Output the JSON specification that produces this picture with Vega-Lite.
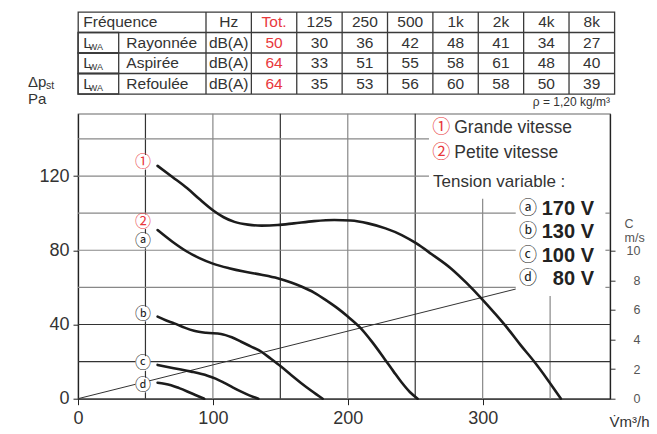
{
  "$schema": "https://vega.github.io/schema/vega-lite/v6.json",
  "background": "white",
  "padding": {"left": 27, "top": 10, "right": 0, "bottom": 37},
  "bounds": "flush",
  "spacing": 19.7,
  "config": {"font": "Liberation Sans", "view": {"stroke": null}, "axis": {"labelFont": "Liberation Sans", "titleFont": "Liberation Sans"}},
  "datasets": {
    "cells": [
      {"row": "Fréquence", "col": "Hz", "v": "Hz"}, {"row": "Fréquence", "col": "Tot.", "v": "Tot."}, {"row": "Fréquence", "col": "125", "v": "125"}, {"row": "Fréquence", "col": "250", "v": "250"}, {"row": "Fréquence", "col": "500", "v": "500"}, {"row": "Fréquence", "col": "1k", "v": "1k"}, {"row": "Fréquence", "col": "2k", "v": "2k"}, {"row": "Fréquence", "col": "4k", "v": "4k"}, {"row": "Fréquence", "col": "8k", "v": "8k"},
      {"row": "Rayonnée", "col": "Hz", "v": "dB(A)"}, {"row": "Rayonnée", "col": "Tot.", "v": "50"}, {"row": "Rayonnée", "col": "125", "v": "30"}, {"row": "Rayonnée", "col": "250", "v": "36"}, {"row": "Rayonnée", "col": "500", "v": "42"}, {"row": "Rayonnée", "col": "1k", "v": "48"}, {"row": "Rayonnée", "col": "2k", "v": "41"}, {"row": "Rayonnée", "col": "4k", "v": "34"}, {"row": "Rayonnée", "col": "8k", "v": "27"},
      {"row": "Aspirée", "col": "Hz", "v": "dB(A)"}, {"row": "Aspirée", "col": "Tot.", "v": "64"}, {"row": "Aspirée", "col": "125", "v": "33"}, {"row": "Aspirée", "col": "250", "v": "51"}, {"row": "Aspirée", "col": "500", "v": "55"}, {"row": "Aspirée", "col": "1k", "v": "58"}, {"row": "Aspirée", "col": "2k", "v": "61"}, {"row": "Aspirée", "col": "4k", "v": "48"}, {"row": "Aspirée", "col": "8k", "v": "40"},
      {"row": "Refoulée", "col": "Hz", "v": "dB(A)"}, {"row": "Refoulée", "col": "Tot.", "v": "64"}, {"row": "Refoulée", "col": "125", "v": "35"}, {"row": "Refoulée", "col": "250", "v": "53"}, {"row": "Refoulée", "col": "500", "v": "56"}, {"row": "Refoulée", "col": "1k", "v": "60"}, {"row": "Refoulée", "col": "2k", "v": "58"}, {"row": "Refoulée", "col": "4k", "v": "50"}, {"row": "Refoulée", "col": "8k", "v": "39"}
    ],
    "labels": [
      {"row": "Fréquence", "c": "LWA", "t": "Fréquence"},
      {"row": "Rayonnée", "c": "LWA", "t": "L"}, {"row": "Aspirée", "c": "LWA", "t": "L"}, {"row": "Refoulée", "c": "LWA", "t": "L"},
      {"row": "Rayonnée", "c": "name", "t": "Rayonnée"}, {"row": "Aspirée", "c": "name", "t": "Aspirée"}, {"row": "Refoulée", "c": "name", "t": "Refoulée"}
    ],
    "subs": [
      {"row": "Rayonnée", "c": "LWA", "t": "WA"}, {"row": "Aspirée", "c": "LWA", "t": "WA"}, {"row": "Refoulée", "c": "LWA", "t": "WA"}
    ],
    "vgridDark": [{"q": 50, "lo": 0, "hi": 153.6}, {"q": 150, "lo": 0, "hi": 153.6}, {"q": 250, "lo": 0, "hi": 153.6}],
    "vgridGray": [{"q": 100, "lo": 0, "hi": 153.6}, {"q": 200, "lo": 0, "hi": 153.6}, {"q": 300, "lo": 0, "hi": 107.7}, {"q": 350, "lo": 0, "hi": 55.4}],
    "hgridDark": [{"p": 20, "lo": 0, "hi": 394.4}, {"p": 40, "lo": 0, "hi": 394.4}],
    "hgridGray": [{"p": 60, "lo": 0, "hi": 324.5}, {"p": 60, "lo": 391, "hi": 394.4}, {"p": 80, "lo": 0, "hi": 324.5}, {"p": 80, "lo": 391, "hi": 394.4}, {"p": 100, "lo": 0, "hi": 324.5}, {"p": 100, "lo": 391, "hi": 394.4}, {"p": 120, "lo": 0, "hi": 260.2}, {"p": 140, "lo": 0, "hi": 260.2}],
    "diag": [{"q": 0, "c": 0}, {"q": 324.5, "c": 7.41}],
    "curves": [
      {"curve": "1", "q": 59, "p": 125.5}, {"curve": "1", "q": 70, "p": 119.5}, {"curve": "1", "q": 81, "p": 113.4}, {"curve": "1", "q": 90, "p": 107.6}, {"curve": "1", "q": 100, "p": 101.6}, {"curve": "1", "q": 108, "p": 97.8}, {"curve": "1", "q": 116, "p": 95.3}, {"curve": "1", "q": 126, "p": 93.8}, {"curve": "1", "q": 136, "p": 93.3}, {"curve": "1", "q": 148, "p": 93.6}, {"curve": "1", "q": 160, "p": 94.5}, {"curve": "1", "q": 175, "p": 95.7}, {"curve": "1", "q": 190, "p": 96.3}, {"curve": "1", "q": 202, "p": 96.0}, {"curve": "1", "q": 215, "p": 94.5}, {"curve": "1", "q": 228, "p": 91.8}, {"curve": "1", "q": 240, "p": 88.2}, {"curve": "1", "q": 250.6, "p": 83.8}, {"curve": "1", "q": 262, "p": 78}, {"curve": "1", "q": 276.5, "p": 70.2}, {"curve": "1", "q": 288, "p": 62.4}, {"curve": "1", "q": 299, "p": 54.1}, {"curve": "1", "q": 309, "p": 46}, {"curve": "1", "q": 318.5, "p": 37.9}, {"curve": "1", "q": 328, "p": 29}, {"curve": "1", "q": 338.3, "p": 19.9}, {"curve": "1", "q": 348, "p": 10.4}, {"curve": "1", "q": 358, "p": 0},
      {"curve": "2", "q": 59, "p": 90.9}, {"curve": "2", "q": 70, "p": 84.6}, {"curve": "2", "q": 81, "p": 79.2}, {"curve": "2", "q": 90, "p": 75.8}, {"curve": "2", "q": 100, "p": 72.8}, {"curve": "2", "q": 112, "p": 70.3}, {"curve": "2", "q": 123, "p": 68.5}, {"curve": "2", "q": 136, "p": 66.8}, {"curve": "2", "q": 148, "p": 64.9}, {"curve": "2", "q": 158, "p": 62.6}, {"curve": "2", "q": 166, "p": 60.3}, {"curve": "2", "q": 175, "p": 57.2}, {"curve": "2", "q": 185, "p": 52.5}, {"curve": "2", "q": 193, "p": 48.4}, {"curve": "2", "q": 200, "p": 44.3}, {"curve": "2", "q": 208.5, "p": 38.8}, {"curve": "2", "q": 218, "p": 30.6}, {"curve": "2", "q": 227, "p": 21.7}, {"curve": "2", "q": 234, "p": 14.6}, {"curve": "2", "q": 240, "p": 8.7}, {"curve": "2", "q": 246, "p": 3.6}, {"curve": "2", "q": 251.8, "p": 0},
      {"curve": "b", "q": 59, "p": 44.2}, {"curve": "b", "q": 65, "p": 42.3}, {"curve": "b", "q": 71.4, "p": 40.6}, {"curve": "b", "q": 79, "p": 38.3}, {"curve": "b", "q": 86, "p": 36.6}, {"curve": "b", "q": 95, "p": 35.5}, {"curve": "b", "q": 106, "p": 34.9}, {"curve": "b", "q": 114, "p": 33.1}, {"curve": "b", "q": 121, "p": 30.7}, {"curve": "b", "q": 128, "p": 28.2}, {"curve": "b", "q": 136, "p": 25.3}, {"curve": "b", "q": 143, "p": 21.5}, {"curve": "b", "q": 150.5, "p": 17.3}, {"curve": "b", "q": 158, "p": 12.8}, {"curve": "b", "q": 165.3, "p": 8.5}, {"curve": "b", "q": 173, "p": 4.3}, {"curve": "b", "q": 181.4, "p": 0},
      {"curve": "c", "q": 59, "p": 18.2}, {"curve": "c", "q": 71, "p": 16.4}, {"curve": "c", "q": 84, "p": 14.6}, {"curve": "c", "q": 96, "p": 12.4}, {"curve": "c", "q": 102, "p": 10.8}, {"curve": "c", "q": 108.5, "p": 8.5}, {"curve": "c", "q": 115, "p": 6}, {"curve": "c", "q": 121, "p": 3.8}, {"curve": "c", "q": 127, "p": 1.8}, {"curve": "c", "q": 133.7, "p": 0},
      {"curve": "d", "q": 59, "p": 8.6}, {"curve": "d", "q": 64, "p": 8.1}, {"curve": "d", "q": 69, "p": 7.3}, {"curve": "d", "q": 75, "p": 5.7}, {"curve": "d", "q": 81, "p": 3.9}, {"curve": "d", "q": 87, "p": 2}, {"curve": "d", "q": 93.6, "p": 0}
    ],
    "curveLabels": [
      {"lab": "①", "kind": "vitesse", "q": 48.2, "p": 127.4},
      {"lab": "②", "kind": "vitesse", "q": 48.2, "p": 95.4},
      {"lab": "ⓐ", "kind": "tension", "q": 48.2, "p": 85},
      {"lab": "ⓑ", "kind": "tension", "q": 48.2, "p": 45.7},
      {"lab": "ⓒ", "kind": "tension", "q": 48.2, "p": 19},
      {"lab": "ⓓ", "kind": "tension", "q": 48.2, "p": 7.4}
    ],
    "legend": [
      {"sym": "①", "txt": "Grande vitesse", "kind": "vitesse", "q": 269.3, "p": 145.7},
      {"sym": "②", "txt": "Petite vitesse", "kind": "vitesse", "q": 269.3, "p": 132.5},
      {"sym": "ⓐ", "txt": "170 V", "kind": "tension", "q": 333.6, "p": 102.5},
      {"sym": "ⓑ", "txt": "130 V", "kind": "tension", "q": 333.6, "p": 89.7},
      {"sym": "ⓒ", "txt": "100 V", "kind": "tension", "q": 333.6, "p": 76.9},
      {"sym": "ⓓ", "txt": "80 V", "kind": "tension", "q": 333.6, "p": 64.4}
    ]
  },
  "vconcat": [
    {
      "width": 536.4,
      "height": 82,
      "view": {"stroke": "#3a3a3a", "strokeWidth": 1.3},
      "resolve": {"scale": {"x": "independent"}},
      "layer": [
        {
          "data": {"name": "cells"},
          "transform": [{"filter": "datum.row == 'Fréquence'"}],
          "mark": {"type": "rule", "color": "#3a3a3a", "strokeWidth": 1.3},
          "encoding": {
            "x": {"field": "col", "type": "nominal", "bandPosition": 0, "scale": {"domain": ["Hz", "Tot.", "125", "250", "500", "1k", "2k", "4k", "8k"], "range": [128, 536.4], "paddingInner": 0, "paddingOuter": 0}, "axis": null}
          }
        },
        {
          "data": {"name": "cells"},
          "transform": [{"filter": "datum.col == 'Hz' && datum.row != 'Fréquence'"}],
          "mark": {"type": "rule", "color": "#3a3a3a", "strokeWidth": 1.3},
          "encoding": {
            "y": {"field": "row", "type": "nominal", "bandPosition": 0, "scale": {"domain": ["Fréquence", "Rayonnée", "Aspirée", "Refoulée"], "paddingInner": 0, "paddingOuter": 0}, "axis": null}
          }
        },
        {
          "data": {"name": "labels"},
          "transform": [{"filter": "datum.c == 'LWA' && datum.row != 'Fréquence'"}],
          "mark": {"type": "rect", "fill": "white", "fillOpacity": 0, "stroke": "#3a3a3a", "strokeWidth": 1.3},
          "encoding": {
            "x": {"field": "c", "type": "nominal", "scale": {"domain": ["LWA"], "range": [0, 40.7], "paddingInner": 0, "paddingOuter": 0}, "axis": null},
            "y": {"field": "row", "type": "nominal", "scale": {"domain": ["Fréquence", "Rayonnée", "Aspirée", "Refoulée"], "paddingInner": 0, "paddingOuter": 0}, "axis": null}
          }
        },
        {
          "data": {"name": "cells"},
          "mark": {"type": "text", "font": "Liberation Sans Narrow, Liberation Sans", "fontSize": 15.5, "baseline": "middle", "align": "center"},
          "encoding": {
            "x": {"field": "col", "type": "nominal", "scale": {"domain": ["Hz", "Tot.", "125", "250", "500", "1k", "2k", "4k", "8k"], "range": [128, 536.4], "paddingInner": 0, "paddingOuter": 0}, "axis": null},
            "y": {"field": "row", "type": "nominal", "scale": {"domain": ["Fréquence", "Rayonnée", "Aspirée", "Refoulée"], "paddingInner": 0, "paddingOuter": 0}, "axis": null},
            "text": {"field": "v"},
            "color": {"condition": {"test": "datum.col == 'Tot.'", "value": "#e8383d"}, "value": "#333333"}
          }
        },
        {
          "data": {"name": "labels"},
          "transform": [{"filter": "datum.c == 'LWA'"}],
          "mark": {"type": "text", "font": "Liberation Sans Narrow, Liberation Sans", "fontSize": 15.5, "baseline": "middle", "align": "left", "dx": -15, "color": "#333333"},
          "encoding": {
            "x": {"field": "c", "type": "nominal", "scale": {"domain": ["LWA"], "range": [0, 40.7], "paddingInner": 0, "paddingOuter": 0}, "axis": null},
            "y": {"field": "row", "type": "nominal", "scale": {"domain": ["Fréquence", "Rayonnée", "Aspirée", "Refoulée"], "paddingInner": 0, "paddingOuter": 0}, "axis": null},
            "text": {"field": "t"}
          }
        },
        {
          "data": {"name": "labels"},
          "transform": [{"filter": "datum.c == 'name'"}],
          "mark": {"type": "text", "font": "Liberation Sans Narrow, Liberation Sans", "fontSize": 15.5, "baseline": "middle", "align": "left", "dx": -36, "color": "#333333"},
          "encoding": {
            "x": {"field": "c", "type": "nominal", "scale": {"domain": ["name"], "range": [40.7, 128], "paddingInner": 0, "paddingOuter": 0}, "axis": null},
            "y": {"field": "row", "type": "nominal", "scale": {"domain": ["Fréquence", "Rayonnée", "Aspirée", "Refoulée"], "paddingInner": 0, "paddingOuter": 0}, "axis": null},
            "text": {"field": "t"}
          }
        },
        {
          "data": {"name": "subs"},
          "mark": {"type": "text", "font": "Liberation Sans Narrow, Liberation Sans", "fontSize": 9, "baseline": "middle", "align": "left", "dx": -9.5, "dy": 4, "color": "#333333"},
          "encoding": {
            "x": {"field": "c", "type": "nominal", "scale": {"domain": ["LWA"], "range": [0, 40.7], "paddingInner": 0, "paddingOuter": 0}, "axis": null},
            "y": {"field": "row", "type": "nominal", "scale": {"domain": ["Fréquence", "Rayonnée", "Aspirée", "Refoulée"], "paddingInner": 0, "paddingOuter": 0}, "axis": null},
            "text": {"field": "t"}
          }
        }
      ]
    },
    {
      "width": 532,
      "height": 285,
      "view": {"stroke": "#666666", "strokeWidth": 1.2},
      "resolve": {"scale": {"y": "independent"}},
      "layer": [
        {
          "data": {"name": "vgridDark"},
          "mark": {"type": "rule", "color": "#333333", "strokeWidth": 1.2},
          "encoding": {
            "x": {"field": "q", "type": "quantitative", "scale": {"domain": [0, 394.4], "nice": false, "zero": false},
              "axis": {"values": [0, 100, 200, 300], "grid": false, "title": "V\u0307m³/h", "titleX": 531, "titleY": 28, "titleAlign": "left", "titleBaseline": "alphabetic", "titleAnchor": "start", "titleFontSize": 15, "titleFontWeight": "normal", "titleColor": "#333333", "labelFontSize": 18, "labelColor": "#333333", "labelPadding": 5, "tickSize": 6, "tickColor": "#222222", "domainColor": "#222222", "domainWidth": 1.3, "labelFlush": false, "labelOverlap": false}},
            "y": {"field": "lo", "type": "quantitative", "scale": {"domain": [0, 153.6], "nice": false, "zero": false},
              "axis": {"orient": "left", "values": [0, 40, 80, 120], "grid": false, "title": null, "labelFontSize": 18, "labelColor": "#333333", "labelPadding": 4, "tickSize": 5, "tickColor": "#222222", "domainColor": "#222222", "domainWidth": 1.3, "labelFlush": false, "labelOverlap": false}},
            "y2": {"field": "hi"}
          }
        },
        {
          "data": {"name": "vgridGray"},
          "mark": {"type": "rule", "color": "#888888", "strokeWidth": 1.2},
          "encoding": {
            "x": {"field": "q", "type": "quantitative", "scale": {"domain": [0, 394.4], "nice": false, "zero": false}},
            "y": {"field": "lo", "type": "quantitative", "scale": {"domain": [0, 153.6], "nice": false, "zero": false}, "axis": null},
            "y2": {"field": "hi"}
          }
        },
        {
          "data": {"name": "hgridDark"},
          "mark": {"type": "rule", "color": "#333333", "strokeWidth": 1.2},
          "encoding": {
            "y": {"field": "p", "type": "quantitative", "scale": {"domain": [0, 153.6], "nice": false, "zero": false}, "axis": null},
            "x": {"field": "lo", "type": "quantitative", "scale": {"domain": [0, 394.4], "nice": false, "zero": false}},
            "x2": {"field": "hi"}
          }
        },
        {
          "data": {"name": "hgridGray"},
          "mark": {"type": "rule", "color": "#888888", "strokeWidth": 1.2},
          "encoding": {
            "y": {"field": "p", "type": "quantitative", "scale": {"domain": [0, 153.6], "nice": false, "zero": false}, "axis": null},
            "x": {"field": "lo", "type": "quantitative", "scale": {"domain": [0, 394.4], "nice": false, "zero": false}},
            "x2": {"field": "hi"}
          }
        },
        {
          "data": {"name": "diag"},
          "mark": {"type": "line", "color": "#333333", "strokeWidth": 1},
          "encoding": {
            "x": {"field": "q", "type": "quantitative", "scale": {"domain": [0, 394.4], "nice": false, "zero": false}},
            "y": {"field": "c", "type": "quantitative", "scale": {"domain": [0, 19.26], "nice": false, "zero": false},
              "axis": {"orient": "right", "values": [0, 2, 4, 6, 8, 10], "grid": false, "title": ["C", "m/s"], "titleAngle": 0, "titleAlign": "left", "titleBaseline": "top", "titleX": 14, "titleY": 104, "titleFontSize": 12.5, "titleFontWeight": "normal", "titleColor": "#555555", "titleLineHeight": 14, "labelFontSize": 12.5, "labelColor": "#555555", "labelAlign": "right", "labelPadding": 25, "tickSize": 5, "tickColor": "#333333", "domainColor": "#222222", "domainWidth": 1.3, "labelFlush": false, "labelOverlap": false}}
          }
        },
        {
          "data": {"name": "curves"},
          "mark": {"type": "line", "interpolate": "monotone", "color": "#1c1c1c", "strokeWidth": 2.6, "strokeCap": "round"},
          "encoding": {
            "x": {"field": "q", "type": "quantitative", "scale": {"domain": [0, 394.4], "nice": false, "zero": false}},
            "y": {"field": "p", "type": "quantitative", "scale": {"domain": [0, 153.6], "nice": false, "zero": false}, "axis": null},
            "detail": {"field": "curve"}
          }
        },
        {
          "data": {"name": "curveLabels"},
          "mark": {"type": "point", "filled": true, "color": "white", "opacity": 1, "size": 240},
          "encoding": {
            "x": {"field": "q", "type": "quantitative", "scale": {"domain": [0, 394.4], "nice": false, "zero": false}},
            "y": {"field": "p", "type": "quantitative", "scale": {"domain": [0, 153.6], "nice": false, "zero": false}, "axis": null}
          }
        },
        {
          "data": {"name": "curveLabels"},
          "mark": {"type": "text", "font": "Noto Sans CJK JP", "fontSize": 16, "baseline": "middle", "align": "center"},
          "encoding": {
            "x": {"field": "q", "type": "quantitative", "scale": {"domain": [0, 394.4], "nice": false, "zero": false}},
            "y": {"field": "p", "type": "quantitative", "scale": {"domain": [0, 153.6], "nice": false, "zero": false}, "axis": null},
            "text": {"field": "lab"},
            "color": {"field": "kind", "type": "nominal", "scale": {"domain": ["vitesse", "tension"], "range": ["#e8383d", "#222222"]}, "legend": null},
            "fontWeight": {"field": "kind", "type": "nominal", "scale": {"domain": ["vitesse", "tension"], "range": [400, 700]}, "legend": null}
          }
        },
        {
          "data": {"name": "legend"},
          "mark": {"type": "text", "font": "Noto Sans CJK JP", "fontSize": 18, "baseline": "middle", "align": "center"},
          "encoding": {
            "x": {"field": "q", "type": "quantitative", "scale": {"domain": [0, 394.4], "nice": false, "zero": false}},
            "y": {"field": "p", "type": "quantitative", "scale": {"domain": [0, 153.6], "nice": false, "zero": false}, "axis": null},
            "text": {"field": "sym"},
            "color": {"field": "kind", "type": "nominal", "scale": {"domain": ["vitesse", "tension"], "range": ["#e8383d", "#222222"]}, "legend": null},
            "fontWeight": {"field": "kind", "type": "nominal", "scale": {"domain": ["vitesse", "tension"], "range": [400, 700]}, "legend": null}
          }
        },
        {
          "data": {"name": "legend"},
          "transform": [{"filter": "datum.kind == 'vitesse'"}],
          "mark": {"type": "text", "fontSize": 17.5, "baseline": "middle", "align": "left", "dx": 13, "color": "#333333"},
          "encoding": {
            "x": {"field": "q", "type": "quantitative", "scale": {"domain": [0, 394.4], "nice": false, "zero": false}},
            "y": {"field": "p", "type": "quantitative", "scale": {"domain": [0, 153.6], "nice": false, "zero": false}, "axis": null},
            "text": {"field": "txt"}
          }
        },
        {
          "data": {"name": "legend"},
          "transform": [{"filter": "datum.kind == 'tension'"}],
          "mark": {"type": "text", "fontSize": 20, "fontWeight": "bold", "baseline": "middle", "align": "right", "dx": 66, "color": "#222222"},
          "encoding": {
            "x": {"field": "q", "type": "quantitative", "scale": {"domain": [0, 394.4], "nice": false, "zero": false}},
            "y": {"field": "p", "type": "quantitative", "scale": {"domain": [0, 153.6], "nice": false, "zero": false}, "axis": null},
            "text": {"field": "txt"}
          }
        },
        {
          "data": {"values": [{}]},
          "mark": {"type": "text", "text": "Tension variable :", "fontSize": 17, "baseline": "middle", "align": "left", "color": "#333333"},
          "encoding": {
            "x": {"datum": 263.2, "type": "quantitative", "scale": {"domain": [0, 394.4], "nice": false, "zero": false}},
            "y": {"datum": 116.8, "type": "quantitative", "scale": {"domain": [0, 153.6], "nice": false, "zero": false}, "axis": null}
          }
        },
        {
          "data": {"values": [{}]},
          "mark": {"type": "text", "text": "ρ = 1,20 kg/m³", "fontSize": 12, "baseline": "alphabetic", "align": "right", "dy": -7.7, "color": "#333333"},
          "encoding": {
            "x": {"datum": 394.4, "type": "quantitative", "scale": {"domain": [0, 394.4], "nice": false, "zero": false}},
            "y": {"datum": 153.6, "type": "quantitative", "scale": {"domain": [0, 153.6], "nice": false, "zero": false}, "axis": null}
          }
        },
        {
          "data": {"values": [{}]},
          "mark": {"type": "text", "text": "Δp", "fontSize": 15, "baseline": "alphabetic", "align": "left", "dx": -50, "dy": -26.7, "color": "#333333"},
          "encoding": {
            "x": {"datum": 0, "type": "quantitative", "scale": {"domain": [0, 394.4], "nice": false, "zero": false}},
            "y": {"datum": 153.6, "type": "quantitative", "scale": {"domain": [0, 153.6], "nice": false, "zero": false}, "axis": null}
          }
        },
        {
          "data": {"values": [{}]},
          "mark": {"type": "text", "text": "st", "fontSize": 10.5, "baseline": "alphabetic", "align": "left", "dx": -32, "dy": -24.4, "color": "#333333"},
          "encoding": {
            "x": {"datum": 0, "type": "quantitative", "scale": {"domain": [0, 394.4], "nice": false, "zero": false}},
            "y": {"datum": 153.6, "type": "quantitative", "scale": {"domain": [0, 153.6], "nice": false, "zero": false}, "axis": null}
          }
        },
        {
          "data": {"values": [{}]},
          "mark": {"type": "text", "text": "Pa", "fontSize": 15, "baseline": "alphabetic", "align": "left", "dx": -50, "dy": -10, "color": "#333333"},
          "encoding": {
            "x": {"datum": 0, "type": "quantitative", "scale": {"domain": [0, 394.4], "nice": false, "zero": false}},
            "y": {"datum": 153.6, "type": "quantitative", "scale": {"domain": [0, 153.6], "nice": false, "zero": false}, "axis": null}
          }
        }
      ]
    }
  ]
}
